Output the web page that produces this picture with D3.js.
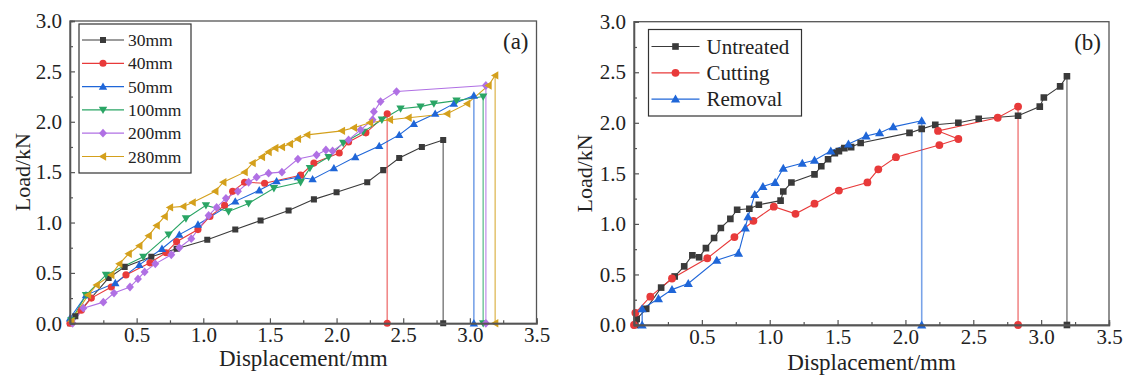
<!DOCTYPE html>
<html><head><meta charset="utf-8">
<script src="https://cdn.jsdelivr.net/npm/d3@7"></script>
<style>
body{margin:0;background:#fff}
svg{display:block}
svg text{font-family:"Liberation Serif","Tinos","Times New Roman","Nimbus Roman","DejaVu Serif",serif !important;fill:#222}
</style>
</head><body>
<svg id="c" width="1127" height="376"></svg>
<script>
// ---------- data ----------
const xTickValues = [0.5, 1.0, 1.5, 2.0, 2.5, 3.0, 3.5];
const yTickValues = [0.0, 0.5, 1.0, 1.5, 2.0, 2.5, 3.0];
const xTickLabels = ["0.5","1.0","1.5","2.0","2.5","3.0","3.5"];
const yTickLabels = ["0.0","0.5","1.0","1.5","2.0","2.5","3.0"];

// Panel (a): load vs displacement for different lengths
const namesA = ["30mm","40mm","50mm","100mm","200mm","280mm"];
const a30 = [[0,0],[0.04,0.07],[0.29,0.45],[0.41,0.56],[0.61,0.66],[0.80,0.74],[1.03,0.83],[1.24,0.93],[1.43,1.02],[1.64,1.12],[1.83,1.23],[2.00,1.30],[2.23,1.40],[2.35,1.52],[2.47,1.64],[2.64,1.75],[2.80,1.82],[2.80,0]];
const a40 = [[0,0],[0.085,0.13],[0.16,0.25],[0.31,0.36],[0.42,0.48],[0.60,0.60],[0.72,0.70],[0.80,0.81],[0.96,0.93],[1.05,1.06],[1.16,1.17],[1.22,1.31],[1.31,1.40],[1.46,1.39],[1.73,1.47],[1.83,1.59],[2.02,1.69],[2.09,1.80],[2.22,1.89],[2.38,2.08],[2.38,0]];
const a50 = [[0,0.05],[0.12,0.28],[0.34,0.40],[0.52,0.58],[0.69,0.74],[0.82,0.88],[0.96,0.98],[1.24,1.21],[1.42,1.32],[1.55,1.41],[1.71,1.45],[1.82,1.43],[1.98,1.54],[2.14,1.65],[2.32,1.76],[2.47,1.87],[2.58,1.98],[2.74,2.08],[2.88,2.18],[3.03,2.26],[3.03,0]];
const a100 = [[0.01,0.03],[0.12,0.28],[0.27,0.48],[0.55,0.66],[0.74,0.88],[0.87,1.04],[1.02,1.17],[1.19,1.11],[1.34,1.19],[1.53,1.34],[1.73,1.40],[1.80,1.54],[1.94,1.65],[2.05,1.79],[2.20,1.90],[2.34,2.02],[2.48,2.13],[2.63,2.15],[2.73,2.18],[2.90,2.21],[3.10,2.25],[3.10,0]];
const a200 = [[0.02,0.0],[0.10,0.15],[0.25,0.21],[0.33,0.30],[0.45,0.36],[0.51,0.44],[0.56,0.51],[0.64,0.59],[0.76,0.68],[0.82,0.75],[0.91,0.84],[1.04,1.07],[1.10,1.15],[1.17,1.24],[1.26,1.31],[1.34,1.40],[1.40,1.45],[1.49,1.49],[1.59,1.50],[1.71,1.63],[1.85,1.67],[1.92,1.72],[1.97,1.71],[2.09,1.82],[2.18,1.92],[2.27,2.02],[2.28,2.10],[2.33,2.20],[2.45,2.30],[3.12,2.36],[3.12,0]];
const a280 = [[0.01,0.02],[0.135,0.28],[0.20,0.38],[0.31,0.48],[0.37,0.59],[0.44,0.69],[0.52,0.77],[0.59,0.87],[0.65,0.97],[0.71,1.06],[0.75,1.15],[0.85,1.16],[0.92,1.20],[1.09,1.31],[1.15,1.40],[1.31,1.50],[1.37,1.59],[1.44,1.65],[1.49,1.70],[1.54,1.74],[1.59,1.75],[1.65,1.78],[1.71,1.83],[1.78,1.87],[2.04,1.91],[2.13,1.94],[2.25,1.99],[2.40,2.02],[2.54,2.04],[2.83,2.08],[2.98,2.18],[3.14,2.36],[3.19,2.46],[3.19,0]];

// Panel (b): treatment comparison
const namesB = ["Untreated","Cutting","Removal"];
const bUntreated = [[0.01,0.0],[0.02,0.06],[0.09,0.16],[0.20,0.37],[0.30,0.48],[0.37,0.58],[0.43,0.69],[0.48,0.67],[0.53,0.76],[0.59,0.86],[0.64,0.96],[0.71,1.05],[0.76,1.14],[0.85,1.15],[0.92,1.19],[1.08,1.23],[1.10,1.32],[1.16,1.41],[1.33,1.49],[1.38,1.57],[1.43,1.64],[1.48,1.70],[1.51,1.72],[1.55,1.75],[1.60,1.76],[1.67,1.80],[2.03,1.90],[2.12,1.94],[2.22,1.98],[2.39,2.00],[2.54,2.04],[2.83,2.07],[2.99,2.16],[3.02,2.25],[3.14,2.36],[3.19,2.46],[3.19,0]];
const bCutting = [[0,0],[0.01,0.12],[0.12,0.28],[0.28,0.46],[0.54,0.66],[0.74,0.87],[0.88,1.03],[1.03,1.17],[1.19,1.10],[1.33,1.20],[1.51,1.33],[1.72,1.41],[1.80,1.54],[1.93,1.66],[2.25,1.78],[2.39,1.84],[2.24,1.92],[2.68,2.05],[2.83,2.16],[2.83,0]];
const bRemoval = [[0.06,0.0],[0.06,0.16],[0.18,0.26],[0.28,0.35],[0.40,0.41],[0.61,0.64],[0.77,0.71],[0.82,0.96],[0.84,1.07],[0.89,1.29],[0.95,1.37],[1.04,1.41],[1.10,1.55],[1.24,1.60],[1.33,1.63],[1.45,1.72],[1.58,1.79],[1.71,1.87],[1.81,1.90],[1.91,1.96],[2.12,2.02],[2.12,0]];

// ---------- styles ----------
const FONT = '"Liberation Serif","Tinos","Times New Roman","Nimbus Roman","DejaVu Serif",serif';
const seriesA = [
  {name:namesA[0], data:a30,  color:"#3a3a3a", shape:"square"},
  {name:namesA[1], data:a40,  color:"#e83a3a", shape:"circle"},
  {name:namesA[2], data:a50,  color:"#1f66d8", shape:"up"},
  {name:namesA[3], data:a100, color:"#2aa565", shape:"down"},
  {name:namesA[4], data:a200, color:"#b070e4", shape:"diamond"},
  {name:namesA[5], data:a280, color:"#d4a01c", shape:"left"}
];
const seriesB = [
  {name:namesB[0], data:bUntreated, color:"#3a3a3a", shape:"square"},
  {name:namesB[1], data:bCutting,   color:"#e83a3a", shape:"circle"},
  {name:namesB[2], data:bRemoval,   color:"#1f66d8", shape:"up"}
];

function markerPath(shape, s){
  switch(shape){
    case "square": return `M${-s*0.72},${-s*0.72}H${s*0.72}V${s*0.72}H${-s*0.72}Z`;
    case "circle": return d3.symbol(d3.symbolCircle, Math.PI*(s*0.85)*(s*0.85))();
    case "up": return `M0,${-s}L${s},${s*0.75}L${-s},${s*0.75}Z`;
    case "down": return `M0,${s}L${s},${-s*0.75}L${-s},${-s*0.75}Z`;
    case "diamond": return `M0,${-s*1.05}L${s*0.95},0L0,${s*1.05}L${-s*0.95},0Z`;
    case "left": return `M${-s},0L${s*0.75},${-s}L${s*0.75},${s}Z`;
  }
}

const svg = d3.select("#c");

function panel(cfg){
  const x = d3.scaleLinear().domain([0,3.5]).range([cfg.left, cfg.right]);
  const y = d3.scaleLinear().domain([0,3.0]).range([cfg.bottom, cfg.top]);
  const g = svg.append("g").attr("font-family", FONT);

  const line = d3.line().x(d=>x(d[0])).y(d=>y(d[1]));
  const cp = "clip"+cfg.label;
  svg.append("clipPath").attr("id",cp).append("rect")
     .attr("x",cfg.left-8).attr("y",cfg.top).attr("width",cfg.right-cfg.left+8).attr("height",cfg.bottom-cfg.top+8);
  const sg = g.append("g").attr("clip-path",`url(#${cp})`);
  cfg.series.forEach(s=>{
    const n = s.data.length;
    sg.append("path").attr("d", line(s.data.slice(0,n-1)))
      .attr("fill","none").attr("stroke",s.color).attr("stroke-width",1.1);
    sg.append("path").attr("d", line(s.data.slice(n-2)))
      .attr("fill","none").attr("stroke",s.color).attr("stroke-opacity",0.6).attr("stroke-width",1.6);
  });
  cfg.series.forEach(s=>{
    sg.selectAll(null).data(s.data).enter().append("path")
      .attr("d", markerPath(s.shape, cfg.ms))
      .attr("transform", d=>`translate(${x(d[0])},${y(d[1])})`)
      .attr("fill", s.color);
  });

  g.append("rect").attr("x",cfg.left).attr("y",cfg.top)
    .attr("width",cfg.right-cfg.left).attr("height",cfg.bottom-cfg.top)
    .attr("fill","none").attr("stroke","#555").attr("stroke-width",1.3);

  const xAxis = d3.axisBottom(x).tickValues(xTickValues).tickSize(-5)
      .tickFormat((d,i)=>xTickLabels[i]).tickPadding(4);
  g.append("g").attr("transform",`translate(0,${cfg.bottom})`).call(xAxis);
  const xMinor = d3.axisBottom(x).tickValues(d3.range(0.25,3.5,0.5)).tickSize(-3).tickFormat("");
  g.append("g").attr("transform",`translate(0,${cfg.bottom})`).call(xMinor);
  const yAxis = d3.axisLeft(y).tickValues(yTickValues).tickSize(-5)
      .tickFormat((d,i)=>yTickLabels[i]).tickPadding(8);
  g.append("g").attr("transform",`translate(${cfg.left},0)`).call(yAxis);
  const yMinor = d3.axisLeft(y).tickValues(d3.range(0.25,3.0,0.5)).tickSize(-3).tickFormat("");
  g.append("g").attr("transform",`translate(${cfg.left},0)`).call(yMinor);
  g.selectAll("g").attr("font-family", FONT);
  g.selectAll(".domain").attr("stroke","#555").attr("stroke-width",1.3);
  g.selectAll(".tick line").attr("stroke","#555").attr("stroke-width",1.2);
  g.selectAll(".tick text").attr("font-size",21).attr("fill","#222");

  g.append("text").attr("x",(cfg.left+cfg.right)/2).attr("y",cfg.xTitleY)
    .attr("text-anchor","middle").attr("font-size",23).text("Displacement/mm");
  g.append("text").attr("transform",`translate(${cfg.yTitleX},${(cfg.top+cfg.bottom)/2}) rotate(-90)`)
    .attr("text-anchor","middle").attr("font-size",22).text("Load/kN");

  g.append("text").attr("x",cfg.right-8).attr("y",cfg.top+28).attr("text-anchor","end")
    .attr("font-size",23).text(`(${cfg.label})`);

  const L = cfg.legend;
  const lg = g.append("g");
  lg.append("rect").attr("x",L.x).attr("y",L.y).attr("width",L.w).attr("height",L.h)
    .attr("fill","#fff").attr("stroke","#333").attr("stroke-width",1.2);
  cfg.series.forEach((s,i)=>{
    const yy = L.y + L.first + i*L.step;
    lg.append("line").attr("x1",L.x+3).attr("x2",L.x+3+L.lineLen).attr("y1",yy).attr("y2",yy)
      .attr("stroke",s.color).attr("stroke-width",1.2);
    lg.append("path").attr("d",markerPath(s.shape,cfg.ms)).attr("fill",s.color)
      .attr("transform",`translate(${L.x+3+L.lineLen/2},${yy})`);
    lg.append("text").attr("x",L.x+L.textX).attr("y",yy).attr("dy","0.35em")
      .attr("font-size",L.fs).text(s.name);
  });
}

panel({label:"a", left:70, right:536.5, top:21, bottom:323.3, series:seriesA, ms:4.2,
  xTitleY:366, yTitleX:30,
  legend:{x:79, y:24, w:112, h:149, first:16, step:23.3, lineLen:42, textX:49, fs:17.5}});
panel({label:"b", left:634, right:1109, top:21.7, bottom:325, series:seriesB, ms:4.6,
  xTitleY:370, yTitleX:592,
  legend:{x:648.5, y:29.5, w:153, h:86.5, first:17, step:26.3, lineLen:48, textX:58, fs:21}});
</script>
</body></html>
